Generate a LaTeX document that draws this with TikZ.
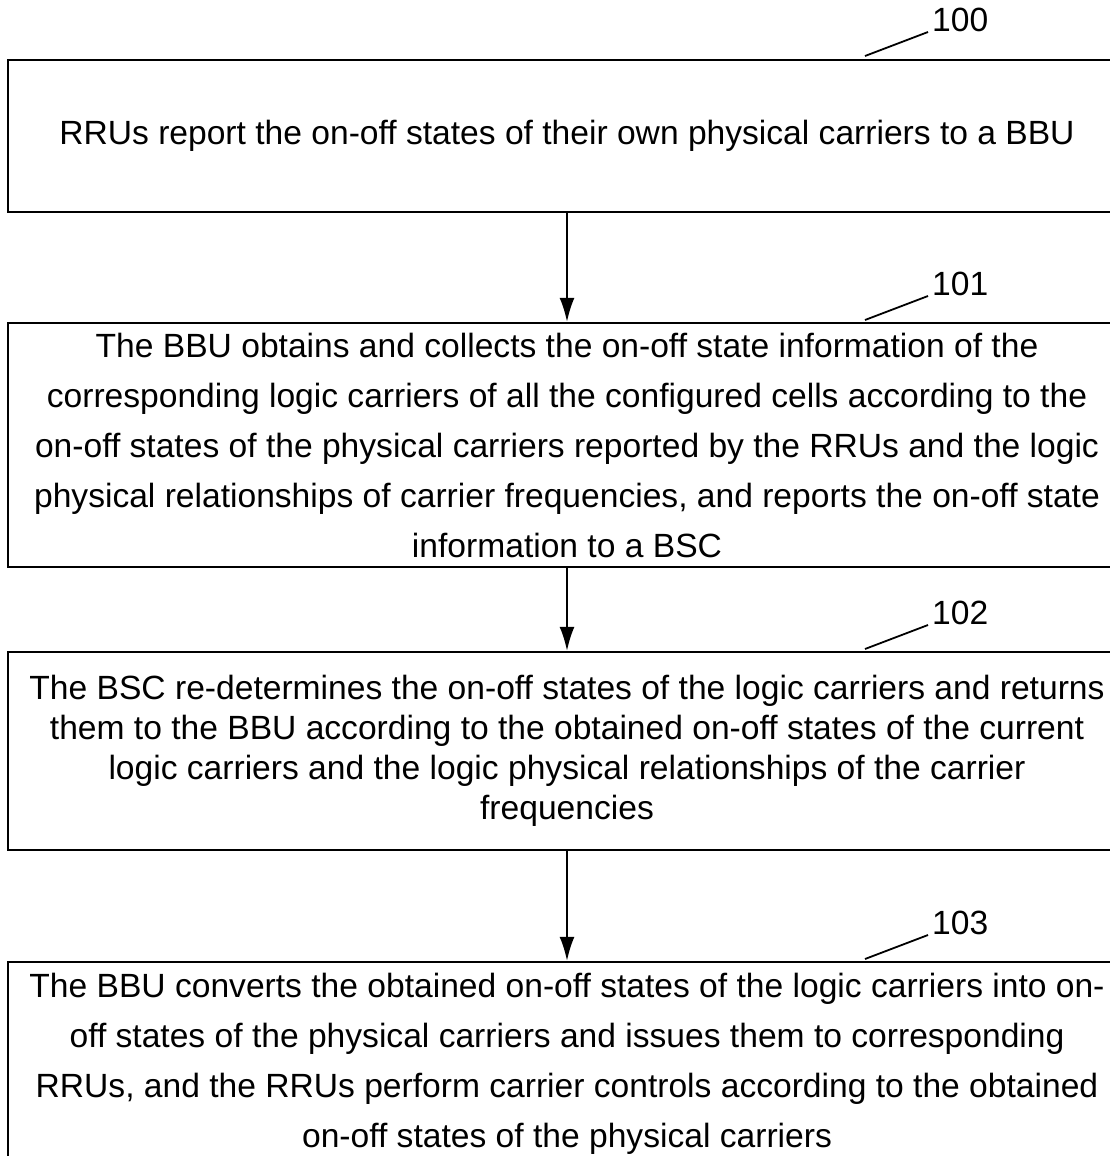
\documentclass[tikz,border=0pt]{standalone}
\usepackage{fontspec}
\setmainfont{Liberation Sans}
\usetikzlibrary{arrows.meta}

\begin{document}
\begin{tikzpicture}[x=1pt,y=-1pt,
    box/.style={draw,line width=2.4pt,minimum width=1118pt,align=center,inner sep=0pt,
        font=\fontsize{33.6}{50}\selectfont},
    tightbox/.style={box,font=\fontsize{33.6}{40}\selectfont},
    flow/.style={line width=1.8pt,-{Latex[length=24pt,width=15pt]}},
    lbl/.style={font=\fontsize{33.6}{38}\selectfont,inner sep=2pt,anchor=south west},
    lead/.style={line width=1.8pt}]
    \clip (0,0) rectangle (1110,1156);
    % steps
    \node[box,minimum height=152pt] (s100) at (567,136)
        {RRUs report the on-off states of their own physical carriers to a BBU};
    \node[box,minimum height=244pt] (s101) at (567,445)
        {The BBU obtains and collects the on-off state information of the\\
         corresponding logic carriers of all the configured cells according to the\\
         on-off states of the physical carriers reported by the RRUs and the logic\\
         physical relationships of carrier frequencies, and reports the on-off state\\
         information to a BSC};
    \node[tightbox,minimum height=198pt] (s102) at (567,751)
        {The BSC re-determines the on-off states of the logic carriers and returns\\
         them to the BBU according to the obtained on-off states of the current\\
         logic carriers and the logic physical relationships of the carrier\\
         frequencies};
    \node[box,minimum height=204pt] (s103) at (567,1064)
        {The BBU converts the obtained on-off states of the logic carriers into on-\\
         off states of the physical carriers and issues them to corresponding\\
         RRUs, and the RRUs perform carrier controls according to the obtained\\
         on-off states of the physical carriers};
    % reference numerals
    \node[lbl] (l100) at (930,34) {100};
    \node[lbl] (l101) at (930,298) {101};
    \node[lbl] (l102) at (930,627) {102};
    \node[lbl] (l103) at (930,937) {103};
    \foreach \n in {100,101,102,103}
        \draw[lead] ([xshift=-2pt,yshift=2pt]l\n.south west) -- ++(-63,24);
    % arrows
    \draw[flow] (s100) -- (s101);
    \draw[flow] (s101) -- (s102);
    \draw[flow] (s102) -- (s103);
\end{tikzpicture}
\end{document}
